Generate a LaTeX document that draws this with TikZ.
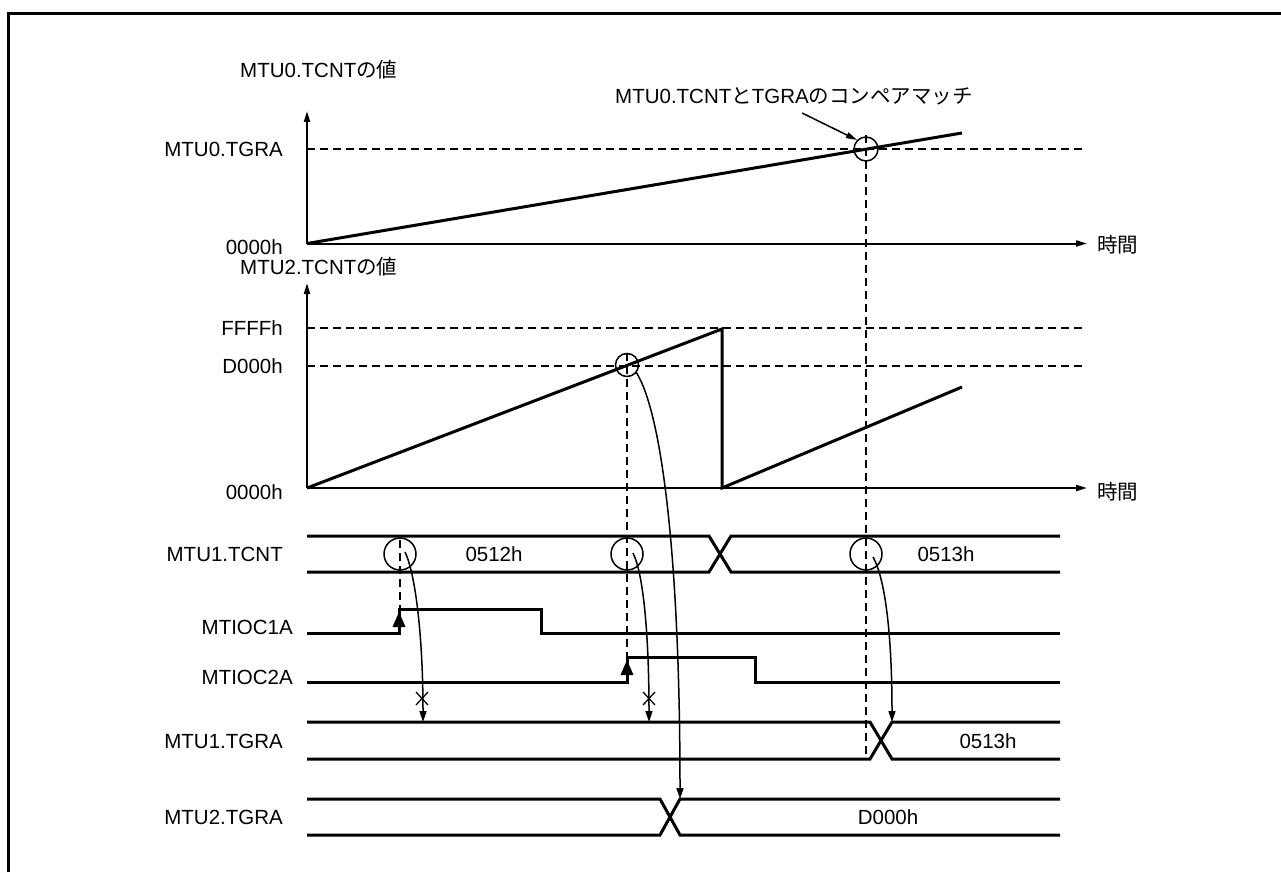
\documentclass[tikz,border=0pt]{standalone}
\usepackage{fontspec}
\setmainfont{Liberation Sans}
\newfontfamily\jp{Noto Sans CJK JP}
\usetikzlibrary{arrows.meta}
\begin{document}
\begin{tikzpicture}[x=1pt,y=-1pt,
  lbl/.style={font=\fontsize{20.5}{24}\selectfont, inner sep=0pt},
  wave/.style={line width=3pt, line join=miter},
  axis/.style={line width=2pt, -{Triangle[length=11pt,width=6pt]}},
  guide/.style={line width=1.5pt, dash pattern=on 8pt off 5pt},
  ring/.style={circle, draw, line width=1.5pt, inner sep=0pt},
  flow/.style={line width=1.5pt, -{Triangle[length=11pt,width=7pt]}},
  cross/.style={line width=1.3pt},
]
\useasboundingbox (0,0) rectangle (1281,872);
% frame
\draw[line width=3pt] (8,872) -- (8,13.5) -- (1281,13.5);

% ---------- MTU0 graph ----------
\node[lbl, anchor=west] (t0) at (240,70) {MTU0.TCNT{\jp の値}};
\node[lbl, anchor=east] (tgra0) at (283,149) {MTU0.TGRA};
\node[lbl, anchor=east] (z0) at (283,247) {0000h};
\node[lbl, anchor=west] (time0) at (1097,245) {\jp 時間};
\coordinate (o0) at (307,243.5);
\draw[guide] (307,149) -- (1085,149);
\draw[axis] (o0) -- (307,111);
\draw[axis] (o0) -- (1087,243.5);
\draw[line width=3pt] (o0) -- (962,133);
\node[ring, minimum size=24pt] (cm0) at (866,149) {};
\node[lbl] (note) at (794,96) {MTU0.TCNT{\jp と}TGRA{\jp のコンペアマッチ}};
\draw[line width=1.5pt, -{Triangle[length=11pt,width=6pt]}] (802,113) -- (cm0.north west);

% ---------- MTU2 graph ----------
\node[lbl, anchor=west] (t2) at (240,267) {MTU2.TCNT{\jp の値}};
\node[lbl, anchor=east] (ff) at (283,328) {FFFFh};
\node[lbl, anchor=east] (d0) at (283,366) {D000h};
\node[lbl, anchor=east] (z2) at (283,492) {0000h};
\node[lbl, anchor=west] (time2) at (1097,492) {\jp 時間};
\coordinate (o2) at (307,488);
\draw[guide] (307,328) -- (1085,328);
\draw[guide] (307,366) -- (1085,366);
\draw[axis] (o2) -- (307,283);
\draw[axis] (o2) -- (1087,488);
\draw[line width=3pt, line join=miter] (o2) -- (722,329) -- (722,488) -- (962,387);
\node[ring, minimum size=23pt] (cm2) at (627,365) {};

% ---------- signal labels ----------
\node[lbl, anchor=east] (s1) at (283,554) {MTU1.TCNT};
\node[lbl, anchor=east] (s2) at (293,627) {MTIOC1A};
\node[lbl, anchor=east] (s3) at (293,677) {MTIOC2A};
\node[lbl, anchor=east] (s4) at (283,741) {MTU1.TGRA};
\node[lbl, anchor=east] (s5) at (283,817) {MTU2.TGRA};

% MTU1.TCNT bus
\draw[wave] (307,536) -- (709,536) -- (731,572) -- (1060,572);
\draw[wave] (307,572) -- (709,572) -- (731,536) -- (1060,536);
\node[lbl] (v1) at (494,554) {0512h};
\node[lbl] (v2) at (946,554) {0513h};
\node[ring, minimum size=32pt] (r1) at (400,554) {};
\node[ring, minimum size=32pt] (r2) at (627,554) {};
\node[ring, minimum size=32pt] (r3) at (866,554) {};

% MTIOC1A
\draw[wave] (307,633) -- (399,633) -- (399,609) -- (541,609) -- (541,633) -- (1060,633);
\fill (392.5,627) -- (405.5,627) -- (399,612) -- cycle;
% MTIOC2A
\draw[wave] (307,682) -- (627,682) -- (627,657) -- (755,657) -- (755,682) -- (1060,682);
\fill (620.5,675) -- (633.5,675) -- (627,660) -- cycle;

% MTU1.TGRA bus
\draw[wave] (307,722) -- (870,722) -- (892,759) -- (1060,759);
\draw[wave] (307,759) -- (870,759) -- (892,722) -- (1060,722);
\node[lbl] (v3) at (988,741) {0513h};

% MTU2.TGRA bus
\draw[wave] (307,799) -- (660,799) -- (680,835) -- (1060,835);
\draw[wave] (307,835) -- (660,835) -- (680,799) -- (1060,799);
\node[lbl] (v4) at (888,817) {D000h};

% dashed verticals
\draw[guide] (866,135) -- (866,759);
\draw[guide] (627,353) -- (627,657);
\draw[guide] (400,540) -- (400,609);

% curved arrows
\coordinate (a1s) at (405,552);
\coordinate (a1e) at (423,722);
\coordinate (a2s) at (633,553);
\coordinate (a2e) at (649,722);
\coordinate (a3s) at (873,557);
\coordinate (a3e) at (892,722);
\coordinate (a4s) at (636,372);
\coordinate (a4e) at (680,799);
\draw[flow] (a1s) .. controls (416,575) and (423,640) .. (a1e);
\draw[flow] (a2s) .. controls (644,575) and (649,640) .. (a2e);
\draw[flow] (a3s) .. controls (886,580) and (892,640) .. (a3e);
\draw[flow] (a4s) .. controls (662,412) and (680,560) .. (a4e);

% blocked marks
\draw[cross] (416,692) -- (428,705) (416,705) -- (428,692);
\draw[cross] (643,692) -- (655,705) (643,705) -- (655,692);
\end{tikzpicture}
\end{document}
